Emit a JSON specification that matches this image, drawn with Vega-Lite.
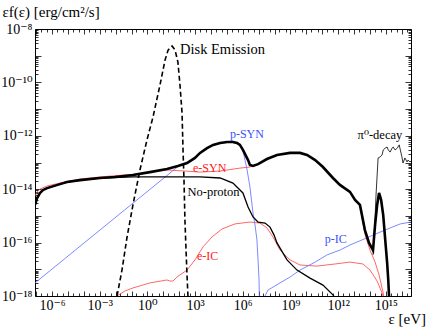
{
  "$schema": "https://vega.github.io/schema/vega-lite/v6.json",
  "width": 376,
  "height": 267,
  "autosize": "none",
  "padding": {"left": 35, "top": 29, "right": 25, "bottom": 31},
  "background": "white",
  "config": {
    "view": {"stroke": null},
    "axis": {
      "grid": false,
      "domainColor": "black",
      "domainWidth": 1,
      "tickColor": "black",
      "tickWidth": 0.8,
      "labelColor": "black",
      "labelFont": "Liberation Serif, Times New Roman, DejaVu Serif, serif",
      "titleFont": "Liberation Serif, Times New Roman, DejaVu Serif, serif",
      "titleColor": "black",
      "titleFontWeight": "normal",
      "labelOverlap": false,
      "labelFlush": false
    },
    "text": {"font": "Liberation Serif, Times New Roman, DejaVu Serif, serif"}
  },
  "datasets": {
    "curves": [
      {"s":"total","e":8.5e-8,"f":2.57e-15},{"s":"total","e":1.15e-7,"f":4.68e-15},{"s":"total","e":1.78e-7,"f":7.24e-15},{"s":"total","e":2.69e-7,"f":9.33e-15},{"s":"total","e":4.9e-7,"f":1.10e-14},{"s":"total","e":3.16e-6,"f":1.55e-14},{"s":"total","e":8.7e-6,"f":1.86e-14},{"s":"total","e":5.75e-5,"f":2.19e-14},{"s":"total","e":1.05e-3,"f":2.63e-14},{"s":"total","e":9.1e-3,"f":2.88e-14},{"s":"total","e":0.123,"f":3.39e-14},{"s":"total","e":1.45,"f":4.37e-14},{"s":"total","e":17,"f":5.75e-14},{"s":"total","e":83,"f":7.41e-14},{"s":"total","e":309,"f":9.55e-14},{"s":"total","e":977,"f":1.48e-13},{"s":"total","e":2042,"f":2.29e-13},{"s":"total","e":5623,"f":3.47e-13},{"s":"total","e":1.35e4,"f":4.57e-13},{"s":"total","e":3.72e4,"f":5.37e-13},{"s":"total","e":1.02e5,"f":5.89e-13},{"s":"total","e":2.4e5,"f":5.89e-13},{"s":"total","e":4.37e5,"f":5.37e-13},{"s":"total","e":6.6e5,"f":4.57e-13},{"s":"total","e":1.02e6,"f":2.95e-13},{"s":"total","e":2.14e6,"f":1.23e-13},{"s":"total","e":2.82e6,"f":8.13e-14},{"s":"total","e":4.37e6,"f":7.41e-14},{"s":"total","e":9.1e6,"f":8.7e-14},{"s":"total","e":3.31e7,"f":1.35e-13},{"s":"total","e":1.41e8,"f":1.91e-13},{"s":"total","e":9.33e8,"f":2.29e-13},{"s":"total","e":3.98e9,"f":2.29e-13},{"s":"total","e":1.1e10,"f":1.91e-13},{"s":"total","e":3.55e10,"f":1.23e-13},{"s":"total","e":1.1e11,"f":6.76e-14},{"s":"total","e":4.68e11,"f":2.63e-14},{"s":"total","e":1.29e12,"f":1.45e-14},{"s":"total","e":5.5e12,"f":7.94e-15},{"s":"total","e":1.15e13,"f":3.98e-15},{"s":"total","e":2.34e13,"f":2.57e-15},{"s":"total","e":4.8e13,"f":2.95e-16},{"s":"total","e":8.7e13,"f":9.77e-17},{"s":"total","e":1.55e14,"f":5.25e-17},{"s":"total","e":2.09e14,"f":4.57e-16},{"s":"total","e":2.82e14,"f":2.57e-15},{"s":"total","e":3.72e14,"f":7.24e-15},{"s":"total","e":5.0e14,"f":3.98e-15},{"s":"total","e":6.8e14,"f":1.07e-15},{"s":"total","e":9.1e14,"f":1.26e-16},{"s":"total","e":1.2e15,"f":1.74e-17},{"s":"total","e":1.41e15,"f":3.98e-18},{"s":"total","e":1.62e15,"f":7.1e-19},

      {"s":"noproton","e":8.5e-8,"f":2.57e-15},{"s":"noproton","e":1.15e-7,"f":4.68e-15},{"s":"noproton","e":1.78e-7,"f":7.24e-15},{"s":"noproton","e":2.69e-7,"f":9.33e-15},{"s":"noproton","e":4.9e-7,"f":1.10e-14},{"s":"noproton","e":3.16e-6,"f":1.55e-14},{"s":"noproton","e":8.7e-6,"f":1.86e-14},{"s":"noproton","e":5.75e-5,"f":2.19e-14},{"s":"noproton","e":1.05e-3,"f":2.63e-14},{"s":"noproton","e":0.123,"f":2.88e-14},{"s":"noproton","e":17,"f":2.88e-14},{"s":"noproton","e":2042,"f":2.88e-14},{"s":"noproton","e":3.72e4,"f":2.63e-14},{"s":"noproton","e":2.4e5,"f":1.70e-14},{"s":"noproton","e":1.02e6,"f":7.24e-15},{"s":"noproton","e":2.14e6,"f":2.14e-15},{"s":"noproton","e":4.37e6,"f":9.12e-16},{"s":"noproton","e":9.1e6,"f":5.89e-16},{"s":"noproton","e":2.51e7,"f":5.37e-16},{"s":"noproton","e":5.13e7,"f":3.8e-16},{"s":"noproton","e":9.3e7,"f":1.91e-16},{"s":"noproton","e":1.41e8,"f":9.77e-17},{"s":"noproton","e":6.03e8,"f":2.24e-17},{"s":"noproton","e":2.57e9,"f":9.33e-18},{"s":"noproton","e":1.7e10,"f":4.68e-18},{"s":"noproton","e":1.1e11,"f":2.57e-18},{"s":"noproton","e":4.68e11,"f":1.10e-18},{"s":"noproton","e":7.4e11,"f":7.1e-19},

      {"s":"esyn","e":8.5e-8,"f":5.62e-15},{"s":"esyn","e":1.15e-7,"f":7.94e-15},{"s":"esyn","e":1.78e-7,"f":1.02e-14},{"s":"esyn","e":4.9e-7,"f":1.32e-14},{"s":"esyn","e":3.16e-6,"f":1.70e-14},{"s":"esyn","e":5.75e-5,"f":2.4e-14},{"s":"esyn","e":1.05e-3,"f":2.88e-14},{"s":"esyn","e":9.1e-3,"f":3.2e-14},{"s":"esyn","e":0.123,"f":3.6e-14},{"s":"esyn","e":1.45,"f":4.3e-14},{"s":"esyn","e":17,"f":5.25e-14},{"s":"esyn","e":229,"f":4.79e-14},{"s":"esyn","e":2042,"f":4.37e-14},{"s":"esyn","e":3.72e4,"f":4.79e-14},{"s":"esyn","e":6.6e5,"f":6.17e-14},{"s":"esyn","e":2.82e6,"f":6.76e-14},{"s":"esyn","e":4.37e6,"f":7.41e-14},{"s":"esyn","e":9.1e6,"f":8.7e-14},{"s":"esyn","e":3.31e7,"f":1.35e-13},{"s":"esyn","e":1.41e8,"f":1.91e-13},{"s":"esyn","e":9.33e8,"f":2.29e-13},{"s":"esyn","e":3.98e9,"f":2.29e-13},{"s":"esyn","e":1.1e10,"f":1.91e-13},{"s":"esyn","e":3.55e10,"f":1.23e-13},{"s":"esyn","e":1.1e11,"f":6.76e-14},{"s":"esyn","e":4.68e11,"f":2.63e-14},{"s":"esyn","e":1.29e12,"f":1.45e-14},{"s":"esyn","e":5.5e12,"f":7.94e-15},{"s":"esyn","e":1.15e13,"f":3.98e-15},{"s":"esyn","e":2.34e13,"f":2.34e-15},{"s":"esyn","e":4.8e13,"f":2.09e-16},{"s":"esyn","e":1.0e14,"f":5.25e-17},{"s":"esyn","e":2.09e14,"f":1.86e-17},{"s":"esyn","e":3.72e14,"f":6.17e-18},{"s":"esyn","e":6.8e14,"f":1.29e-18},{"s":"esyn","e":7.8e14,"f":7.1e-19},

      {"s":"eic","e":1.23e-2,"f":1.0e-18},{"s":"eic","e":3.89e-2,"f":1.55e-18},{"s":"eic","e":0.123,"f":2.0e-18},{"s":"eic","e":1.45,"f":3.09e-18},{"s":"eic","e":17,"f":3.98e-18},{"s":"eic","e":26.3,"f":3.63e-18},{"s":"eic","e":40.7,"f":3.63e-18},{"s":"eic","e":72.4,"f":5.13e-18},{"s":"eic","e":309,"f":9.33e-18},{"s":"eic","e":977,"f":2.24e-17},{"s":"eic","e":3162,"f":6.92e-17},{"s":"eic","e":1.15e4,"f":1.62e-16},{"s":"eic","e":4.9e4,"f":3.24e-16},{"s":"eic","e":3.24e5,"f":5.01e-16},{"s":"eic","e":2.82e6,"f":5.89e-16},{"s":"eic","e":1.2e7,"f":5.37e-16},{"s":"eic","e":3.31e7,"f":3.55e-16},{"s":"eic","e":7.94e7,"f":1.62e-16},{"s":"eic","e":2.19e8,"f":5.25e-17},{"s":"eic","e":9.33e8,"f":2.24e-17},{"s":"eic","e":3.98e9,"f":1.45e-17},{"s":"eic","e":4.68e10,"f":1.32e-17},{"s":"eic","e":6.31e11,"f":1.58e-17},{"s":"eic","e":5.5e12,"f":1.86e-17},{"s":"eic","e":3.63e13,"f":1.58e-17},{"s":"eic","e":1.0e14,"f":9.33e-18},{"s":"eic","e":2.82e14,"f":3.63e-18},{"s":"eic","e":5.75e14,"f":1.29e-18},{"s":"eic","e":7.8e14,"f":7.1e-19},

      {"s":"psyn","e":8.5e-8,"f":3.09e-18},{"s":"psyn","e":0.339,"f":4.9e-15},{"s":"psyn","e":112,"f":8.1e-14},{"s":"psyn","e":309,"f":8.9e-14},{"s":"psyn","e":977,"f":1.38e-13},{"s":"psyn","e":2042,"f":2.19e-13},{"s":"psyn","e":5623,"f":3.3e-13},{"s":"psyn","e":1.35e4,"f":4.37e-13},{"s":"psyn","e":3.72e4,"f":5.13e-13},{"s":"psyn","e":1.02e5,"f":5.62e-13},{"s":"psyn","e":2.4e5,"f":5.62e-13},{"s":"psyn","e":4.37e5,"f":5.0e-13},{"s":"psyn","e":6.6e5,"f":4.27e-13},{"s":"psyn","e":1.02e6,"f":2.82e-13},{"s":"psyn","e":1.86e6,"f":5.25e-14},{"s":"psyn","e":2.82e6,"f":1.2e-14},{"s":"psyn","e":4.37e6,"f":1.29e-15},{"s":"psyn","e":5.89e6,"f":4.57e-16},{"s":"psyn","e":7.76e6,"f":1.26e-16},{"s":"psyn","e":9.1e6,"f":2.24e-17},{"s":"psyn","e":1.05e7,"f":3.98e-18},{"s":"psyn","e":1.1e7,"f":7.1e-19},

      {"s":"pic","e":2.51e7,"f":1.0e-18},{"s":"pic","e":3.8e7,"f":1.66e-18},{"s":"pic","e":2.19e8,"f":3.09e-18},{"s":"pic","e":9.33e8,"f":5.13e-18},{"s":"pic","e":3.98e9,"f":9.33e-18},{"s":"pic","e":3.55e10,"f":1.86e-17},{"s":"pic","e":2.0e11,"f":3.47e-17},{"s":"pic","e":1.29e12,"f":5.25e-17},{"s":"pic","e":5.5e12,"f":8.13e-17},{"s":"pic","e":3.16e13,"f":1.26e-16},{"s":"pic","e":1.55e14,"f":1.91e-16},{"s":"pic","e":1.86e15,"f":3.55e-16},{"s":"pic","e":8.1e15,"f":5.01e-16},{"s":"pic","e":3.8e16,"f":5.89e-16},

      {"s":"pi0","e":1.55e14,"f":3.47e-17},{"s":"pi0","e":1.82e14,"f":1.91e-16},{"s":"pi0","e":2.09e14,"f":8.3e-16},{"s":"pi0","e":2.4e14,"f":6.03e-15},{"s":"pi0","e":2.82e14,"f":3.39e-14},{"s":"pi0","e":3.24e14,"f":1.48e-13},{"s":"pi0","e":4.37e14,"f":1.62e-13},{"s":"pi0","e":5.75e14,"f":1.91e-13},{"s":"pi0","e":6.8e14,"f":2.95e-13},{"s":"pi0","e":9.1e14,"f":3.47e-13},{"s":"pi0","e":1.2e15,"f":3.8e-13},{"s":"pi0","e":1.41e15,"f":2.95e-13},{"s":"pi0","e":1.86e15,"f":2.45e-13},{"s":"pi0","e":2.45e15,"f":3.47e-13},{"s":"pi0","e":2.88e15,"f":3.8e-13},{"s":"pi0","e":3.8e15,"f":2.95e-13},{"s":"pi0","e":5.25e15,"f":3.47e-13},{"s":"pi0","e":6.9e15,"f":4.57e-13},{"s":"pi0","e":8.1e15,"f":2.95e-13},{"s":"pi0","e":1.02e16,"f":1.62e-13},{"s":"pi0","e":1.2e16,"f":9.55e-14},{"s":"pi0","e":1.58e16,"f":1.48e-13},{"s":"pi0","e":2.14e16,"f":1.05e-13},{"s":"pi0","e":2.45e16,"f":1.23e-13},{"s":"pi0","e":3.3e16,"f":1.05e-13},{"s":"pi0","e":3.8e16,"f":1.13e-13},

      {"s":"disk","e":1.23e-2,"f":1.0e-18},{"s":"disk","e":2.51e-2,"f":9.33e-18},{"s":"disk","e":5.25e-2,"f":1.62e-16},{"s":"disk","e":0.123,"f":2.57e-15},{"s":"disk","e":0.339,"f":5.25e-14},{"s":"disk","e":0.933,"f":6.92e-13},{"s":"disk","e":2.24,"f":5.01e-12},{"s":"disk","e":6.17,"f":7.94e-11},{"s":"disk","e":12.9,"f":6.92e-10},{"s":"disk","e":20,"f":1.62e-9},{"s":"disk","e":35.5,"f":2.29e-9},{"s":"disk","e":55,"f":1.62e-9},{"s":"disk","e":83,"f":5.75e-10},{"s":"disk","e":112,"f":7.94e-11},{"s":"disk","e":151,"f":7.08e-12},{"s":"disk","e":174,"f":2.95e-13},{"s":"disk","e":200,"f":2.19e-14},{"s":"disk","e":229,"f":7.08e-16},{"s":"disk","e":269,"f":5.25e-17},{"s":"disk","e":309,"f":6.17e-18},{"s":"disk","e":355,"f":1.0e-18}
    ],
    "labels": [
      {"t":"Disk Emission","e":112,"f":1.62e-9},
      {"t":"No-proton","e":330,"f":7.94e-15},
      {"t":"π⁰-decay","e":1.07e16,"f":1.07e-12},
      {"t":"e-SYN","e":741,"f":6.17e-14},
      {"t":"e-IC","e":1318,"f":3.16e-17},
      {"t":"p-SYN","e":1.55e5,"f":1.17e-12},
      {"t":"p-IC","e":1.45e11,"f":1.35e-16}
    ]
  },
  "layer": [
    {
      "encoding": {
        "x": {
          "field": "e", "type": "quantitative",
          "scale": {"type": "log", "domain": [8.5e-8, 3.8e16], "nice": false},
          "axis": {
            "orient": "bottom",
            "title": "ε [eV]",
            "titleFontSize": 15,
            "titleAngle": 0,
            "titleAlign": "left",
            "titleBaseline": "bottom",
            "titleX": 353,
            "titleY": 30,
            "values": [1e-7,2e-7,5e-7,1e-6,2e-6,5e-6,1e-5,2e-5,5e-5,1e-4,2e-4,5e-4,1e-3,2e-3,5e-3,1e-2,2e-2,5e-2,0.1,0.2,0.5,1,2,5,10,20,50,100,200,500,1e3,2e3,5e3,1e4,2e4,5e4,1e5,2e5,5e5,1e6,2e6,5e6,1e7,2e7,5e7,1e8,2e8,5e8,1e9,2e9,5e9,1e10,2e10,5e10,1e11,2e11,5e11,1e12,2e12,5e12,1e13,2e13,5e13,1e14,2e14,5e14,1e15,2e15,5e15,1e16,2e16],
            "tickSize": {"condition": {"test": "abs(log(datum.value)/LN10-round(log(datum.value)/LN10))<0.01", "value": -5}, "value": -3},
            "labelExpr": "abs(log(datum.value)/LN10-round(log(datum.value)/LN10))<0.01 && round(log(datum.value)/LN10)%3==0 ? ['10⁻⁶','10⁻³','10⁰','10³','10⁶','10⁹','10¹²','10¹⁵'][(round(log(datum.value)/LN10)+6)/3] : ''",
            "labelFontSize": 14,
            "labelPadding": 7,
            "labelBaseline": "top"
          }
        },
        "y": {
          "field": "f", "type": "quantitative",
          "scale": {"type": "log", "domain": [1e-18, 1e-8], "nice": false},
          "axis": {
            "orient": "left",
            "title": "εf(ε) [erg/cm²/s]",
            "titleFontSize": 15,
            "titleAngle": 0,
            "titleAlign": "left",
            "titleBaseline": "middle",
            "titleX": -33,
            "titleY": -18,
            "values": [1e-18,2e-18,3e-18,4e-18,5e-18,6e-18,7e-18,8e-18,9e-18,1e-17,2e-17,3e-17,4e-17,5e-17,6e-17,7e-17,8e-17,9e-17,1e-16,2e-16,3e-16,4e-16,5e-16,6e-16,7e-16,8e-16,9e-16,1e-15,2e-15,3e-15,4e-15,5e-15,6e-15,7e-15,8e-15,9e-15,1e-14,2e-14,3e-14,4e-14,5e-14,6e-14,7e-14,8e-14,9e-14,1e-13,2e-13,3e-13,4e-13,5e-13,6e-13,7e-13,8e-13,9e-13,1e-12,2e-12,3e-12,4e-12,5e-12,6e-12,7e-12,8e-12,9e-12,1e-11,2e-11,3e-11,4e-11,5e-11,6e-11,7e-11,8e-11,9e-11,1e-10,2e-10,3e-10,4e-10,5e-10,6e-10,7e-10,8e-10,9e-10,1e-9,2e-9,3e-9,4e-9,5e-9,6e-9,7e-9,8e-9,9e-9,1e-8],
            "tickSize": {"condition": {"test": "abs(log(datum.value)/LN10-round(log(datum.value)/LN10))<0.01", "value": -6}, "value": -3},
            "labelExpr": "abs(log(datum.value)/LN10-round(log(datum.value)/LN10))<0.01 && round(log(datum.value)/LN10)%2==0 ? ['10⁻¹⁸','10⁻¹⁶','10⁻¹⁴','10⁻¹²','10⁻¹⁰','10⁻⁸'][(round(log(datum.value)/LN10)+18)/2] : ''",
            "labelFontSize": 14,
            "labelPadding": 9,
            "labelBaseline": "middle"
          }
        }
      },
      "layer": [
        {"data": {"name": "curves"}, "transform": [{"filter": "datum.s=='eic'"}], "mark": {"type": "line", "color": "#ff4040", "strokeWidth": 0.8, "clip": true}},
        {"data": {"name": "curves"}, "transform": [{"filter": "datum.s=='psyn'"}], "mark": {"type": "line", "color": "#5a6cff", "strokeWidth": 0.8, "clip": true}},
        {"data": {"name": "curves"}, "transform": [{"filter": "datum.s=='pic'"}], "mark": {"type": "line", "color": "#5a6cff", "strokeWidth": 0.8, "clip": true}},
        {"data": {"name": "curves"}, "transform": [{"filter": "datum.s=='esyn'"}], "mark": {"type": "line", "color": "#ff4040", "strokeWidth": 0.8, "clip": true}},
        {"data": {"name": "curves"}, "transform": [{"filter": "datum.s=='noproton'"}], "mark": {"type": "line", "color": "black", "strokeWidth": 1.3, "clip": true}},
        {"data": {"name": "curves"}, "transform": [{"filter": "datum.s=='pi0'"}], "mark": {"type": "line", "color": "black", "strokeWidth": 0.8, "clip": true}},
        {"data": {"name": "curves"}, "transform": [{"filter": "datum.s=='disk'"}], "mark": {"type": "line", "color": "black", "strokeWidth": 1.6, "strokeDash": [5, 3], "clip": true}},
        {"data": {"name": "curves"}, "transform": [{"filter": "datum.s=='total'"}], "mark": {"type": "line", "color": "black", "strokeWidth": 2.6, "clip": true}},
        {"data": {"name": "labels"}, "transform": [{"filter": "datum.t=='Disk Emission'"}], "mark": {"type": "text", "fontSize": 14.5, "align": "left", "baseline": "middle", "color": "black"}, "encoding": {"text": {"field": "t"}}},
        {"data": {"name": "labels"}, "transform": [{"filter": "datum.t=='No-proton'"}], "mark": {"type": "text", "fontSize": 12.5, "align": "left", "baseline": "middle", "color": "black"}, "encoding": {"text": {"field": "t"}}},
        {"data": {"name": "labels"}, "transform": [{"filter": "datum.t=='π⁰-decay'"}], "mark": {"type": "text", "fontSize": 12.5, "align": "right", "baseline": "middle", "color": "black"}, "encoding": {"text": {"field": "t"}}},
        {"data": {"name": "labels"}, "transform": [{"filter": "datum.t=='e-SYN' || datum.t=='e-IC'"}], "mark": {"type": "text", "fontSize": 12, "align": "left", "baseline": "middle", "color": "#ff2020"}, "encoding": {"text": {"field": "t"}}},
        {"data": {"name": "labels"}, "transform": [{"filter": "datum.t=='p-SYN' || datum.t=='p-IC'"}], "mark": {"type": "text", "fontSize": 12, "align": "left", "baseline": "middle", "color": "#3a50ff"}, "encoding": {"text": {"field": "t"}}}
      ]
    },
    {
      "data": {"name": "curves"},
      "transform": [{"filter": "datum.s=='pic'"}],
      "mark": {"type": "point", "opacity": 0},
      "encoding": {
        "x": {
          "field": "e", "type": "quantitative",
          "scale": {"type": "log", "domain": [8.5e-8, 3.8e16], "nice": false},
          "axis": {
            "orient": "top", "title": null, "labels": false,
            "values": [1e-7,2e-7,5e-7,1e-6,2e-6,5e-6,1e-5,2e-5,5e-5,1e-4,2e-4,5e-4,1e-3,2e-3,5e-3,1e-2,2e-2,5e-2,0.1,0.2,0.5,1,2,5,10,20,50,100,200,500,1e3,2e3,5e3,1e4,2e4,5e4,1e5,2e5,5e5,1e6,2e6,5e6,1e7,2e7,5e7,1e8,2e8,5e8,1e9,2e9,5e9,1e10,2e10,5e10,1e11,2e11,5e11,1e12,2e12,5e12,1e13,2e13,5e13,1e14,2e14,5e14,1e15,2e15,5e15,1e16,2e16],
            "tickSize": {"condition": {"test": "abs(log(datum.value)/LN10-round(log(datum.value)/LN10))<0.01", "value": -5}, "value": -3}
          }
        },
        "y": {
          "field": "f", "type": "quantitative",
          "scale": {"type": "log", "domain": [1e-18, 1e-8], "nice": false},
          "axis": {
            "orient": "right", "title": null, "labels": false,
            "values": [1e-18,2e-18,3e-18,4e-18,5e-18,6e-18,7e-18,8e-18,9e-18,1e-17,2e-17,3e-17,4e-17,5e-17,6e-17,7e-17,8e-17,9e-17,1e-16,2e-16,3e-16,4e-16,5e-16,6e-16,7e-16,8e-16,9e-16,1e-15,2e-15,3e-15,4e-15,5e-15,6e-15,7e-15,8e-15,9e-15,1e-14,2e-14,3e-14,4e-14,5e-14,6e-14,7e-14,8e-14,9e-14,1e-13,2e-13,3e-13,4e-13,5e-13,6e-13,7e-13,8e-13,9e-13,1e-12,2e-12,3e-12,4e-12,5e-12,6e-12,7e-12,8e-12,9e-12,1e-11,2e-11,3e-11,4e-11,5e-11,6e-11,7e-11,8e-11,9e-11,1e-10,2e-10,3e-10,4e-10,5e-10,6e-10,7e-10,8e-10,9e-10,1e-9,2e-9,3e-9,4e-9,5e-9,6e-9,7e-9,8e-9,9e-9,1e-8],
            "tickSize": {"condition": {"test": "abs(log(datum.value)/LN10-round(log(datum.value)/LN10))<0.01", "value": -6}, "value": -3}
          }
        }
      }
    }
  ],
  "resolve": {"axis": {"x": "independent", "y": "independent"}}
}
